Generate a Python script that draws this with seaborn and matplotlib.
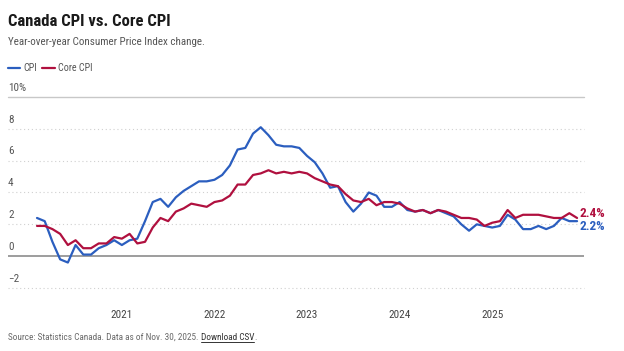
import numpy as np
import pandas as pd
import seaborn as sns
import matplotlib.pyplot as plt
from matplotlib.lines import Line2D
from matplotlib import font_manager as fm

# monthly y/y change, Jan 2020 .. Nov 2025
cpi = [2.4, 2.2, 0.9, -0.2, -0.4, 0.7, 0.1, 0.1, 0.5, 0.7, 1.0, 0.7,
       1.0, 1.1, 2.2, 3.4, 3.6, 3.1, 3.7, 4.1, 4.4, 4.7, 4.7, 4.8,
       5.1, 5.7, 6.7, 6.8, 7.7, 8.1, 7.6, 7.0, 6.9, 6.9, 6.8, 6.3,
       5.9, 5.2, 4.3, 4.4, 3.4, 2.8, 3.3, 4.0, 3.8, 3.1, 3.1, 3.4,
       2.9, 2.8, 2.9, 2.7, 2.9, 2.7, 2.5, 2.0, 1.6, 2.0, 1.9, 1.8,
       1.9, 2.6, 2.3, 1.7, 1.7, 1.9, 1.7, 1.9, 2.4, 2.2, 2.2]
core = [1.9, 1.9, 1.7, 1.4, 0.7, 1.0, 0.5, 0.5, 0.8, 0.8, 1.2, 1.1,
        1.4, 0.8, 0.9, 1.8, 2.4, 2.2, 2.8, 3.0, 3.3, 3.2, 3.1, 3.4,
        3.5, 3.8, 4.5, 4.5, 5.1, 5.2, 5.4, 5.2, 5.3, 5.2, 5.3, 5.2,
        4.9, 4.7, 4.5, 4.4, 3.9, 3.5, 3.4, 3.6, 3.2, 3.4, 3.4, 3.3,
        3.0, 2.8, 2.9, 2.7, 2.9, 2.8, 2.6, 2.4, 2.4, 2.3, 1.9, 2.1,
        2.2, 2.9, 2.4, 2.6, 2.6, 2.6, 2.5, 2.4, 2.4, 2.7, 2.4]
years = ['2021', '2022', '2023', '2024', '2025']
y_ticks = [10, 8, 6, 4, 2, 0, -2]
y_labels = ['10%', '8', '6', '4', '2', '0', '\u22122']

blue = '#2B5EBF'
red = '#B0103F'

df = pd.DataFrame({'month': np.arange(len(cpi)), 'CPI': cpi, 'Core CPI': core})
df = df.melt(id_vars='month', var_name='series', value_name='pct')

sns.set_theme(style='white')
have = set(f.name for f in fm.fontManager.ttflist)
font = next((f for f in ['Roboto Condensed', 'Barlow Semi Condensed', 'Archivo Narrow',
                         'Asap Condensed', 'Liberation Sans'] if f in have), 'DejaVu Sans')
plt.rcParams['font.family'] = [font, 'DejaVu Sans']

W, H = 624, 351
def fx(x):
    return x / W
def fy(y):
    return 1 - y / H

fig = plt.figure(figsize=(W / 100, H / 100), dpi=100)
ax = fig.add_axes([fx(8), fy(288), fx(584) - fx(8), fy(97) - fy(288)])

sns.lineplot(data=df, x='month', y='pct', hue='series', palette={'CPI': blue, 'Core CPI': red},
             hue_order=['CPI', 'Core CPI'], lw=1.6, legend=False, ax=ax, zorder=3)

ax.set_xlim(-3.76, 70.9)
ax.set_ylim(-2, 10)
for s in ax.spines.values():
    s.set_visible(False)
ax.set_xlabel('')
ax.set_ylabel('')

# grid
for v in y_ticks:
    if v == 10:
        ax.axhline(v, color='#c8c8c8', lw=1.0, zorder=1, clip_on=False)
    elif v == 0:
        ax.axhline(v, color='#8c8c8c', lw=1.2, zorder=2)
    else:
        ax.axhline(v, color='#d0d0d0', lw=0.8, ls=(0, (1, 2.5)), zorder=1, clip_on=False)
ax.set_yticks([])
for v, lab in zip(y_ticks, y_labels):
    ax.annotate(lab, xy=(0, v), xycoords=('axes fraction', 'data'), xytext=(0, 3),
                textcoords='offset points', ha='left', va='bottom', fontsize=8, color='#555555')

ax.set_xticks([11, 23, 35, 47, 59], labels=years)
ax.tick_params(axis='x', length=0, pad=16, labelsize=8, labelcolor='#444444')

# end labels
ax.annotate('2.4%', xy=(70, core[-1]), xytext=(2, 3), textcoords='offset points',
            ha='left', va='center', fontsize=9.5, weight='bold', color=red)
ax.annotate('2.2%', xy=(70, cpi[-1]), xytext=(2, -4), textcoords='offset points',
            ha='left', va='center', fontsize=9.5, weight='bold', color=blue)

# header
fig.text(fx(8), fy(22), 'Canada CPI vs. Core CPI', fontsize=12, weight='bold', color='#1a1a1a', va='center')
fig.text(fx(8), fy(42), 'Year-over-year Consumer Price Index change.', fontsize=7.9, color='#555555', va='center')

# legend
fig.add_artist(Line2D([fx(8), fx(20)], [fy(68), fy(68)], color=blue, lw=1.6))
fig.text(fx(23), fy(68), 'CPI', fontsize=7.2, color='#555555', va='center')
fig.add_artist(Line2D([fx(42), fx(55)], [fy(68), fy(68)], color=red, lw=1.6))
fig.text(fx(58), fy(68), 'Core CPI', fontsize=7.2, color='#555555', va='center')

# source
src = fig.text(fx(8), fy(337), 'Source: Statistics Canada. Data as of Nov. 30, 2025. ',
               fontsize=6.7, color='#6a6a6a', va='center')
r = fig.canvas.get_renderer()
bb = src.get_window_extent(r)
dl = fig.text(bb.x1 / W, fy(337), 'Download CSV', fontsize=6.7, color='#333333', va='center')
bb2 = dl.get_window_extent(r)
fig.add_artist(Line2D([bb2.x0 / W, bb2.x1 / W], [bb2.y0 / H - 0.002, bb2.y0 / H - 0.002], color='#333333', lw=0.7))
fig.text(bb2.x1 / W, fy(337), '.', fontsize=6.7, color='#6a6a6a', va='center')

fig.savefig('out.png', dpi=100, facecolor='white')
